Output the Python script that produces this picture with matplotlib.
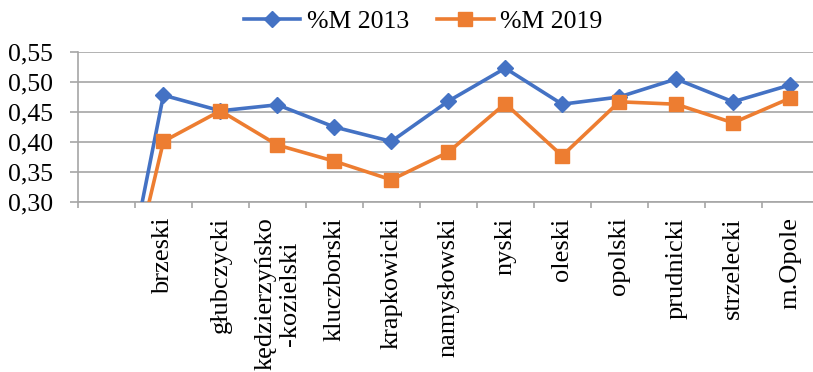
import matplotlib
matplotlib.use("Agg")
import matplotlib.pyplot as plt
from matplotlib.ticker import FixedLocator, FuncFormatter

plt.rcParams['font.family'] = ['Liberation Serif', 'DejaVu Serif']

categories = ["", "brzeski", "głubczycki", "kędzierzyńsko\n-kozielski", "kluczborski",
              "krapkowicki", "namysłowski", "nyski", "oleski", "opolski",
              "prudnicki", "strzelecki", "m.Opole"]
m2013 = [0.0, 0.478, 0.452, 0.462, 0.425, 0.401, 0.468, 0.523, 0.463, 0.475, 0.505, 0.467, 0.495]
m2019 = [0.0, 0.401, 0.452, 0.395, 0.368, 0.337, 0.383, 0.464, 0.377, 0.467, 0.463, 0.432, 0.473]
yticks = [0.30, 0.35, 0.40, 0.45, 0.50, 0.55]

W, H = 813, 372
fig = plt.figure(figsize=(W/100, H/100), dpi=100)
ax = fig.add_axes([78/W, (H-202)/H, (818.5-78)/W, 150/H])

x = list(range(len(categories)))
blue = '#4472C4'
orange = '#ED7D31'
ax.plot(x, m2013, color=blue, lw=2.6, marker='D', ms=8.5, label='%M 2013', zorder=3)
ax.plot(x, m2019, color=orange, lw=2.6, marker='s', ms=10.5, label='%M 2019', zorder=3)

ax.set_xlim(-0.5, len(categories) - 0.5)
ax.set_ylim(0.30, 0.55)
ax.yaxis.set_major_locator(FixedLocator(yticks))
ax.yaxis.set_major_formatter(FuncFormatter(lambda v, p: f"{v:.2f}".replace('.', ',')))
ax.grid(axis='y', color='#A6A6A6', lw=1.2, zorder=0)
ax.set_axisbelow(True)

ax.set_xticks(x)
ax.set_xticklabels(categories, rotation=90, va='top', ha='center', linespacing=1.15)
ax.set_xticks([i - 0.5 for i in x] + [len(categories) - 0.5], minor=True)
ax.tick_params(axis='x', which='major', length=0, pad=11, labelsize=19)
ax.tick_params(axis='x', which='minor', length=4, width=1.2, color='#A6A6A6')
ax.tick_params(axis='y', length=6, width=1.2, color='#A6A6A6', pad=12, labelsize=18.5)

for s in ['top', 'right']:
    ax.spines[s].set_visible(False)
for s in ['left', 'bottom']:
    ax.spines[s].set_color('#A6A6A6')
    ax.spines[s].set_linewidth(1.2)

fig.legend(loc='center', bbox_to_anchor=(423/W, 1 - 22/H), ncol=2, frameon=False,
           fontsize=18.5, handlelength=2.2, handletextpad=0.25, columnspacing=1.1)

fig.savefig('out.png', dpi=100)
